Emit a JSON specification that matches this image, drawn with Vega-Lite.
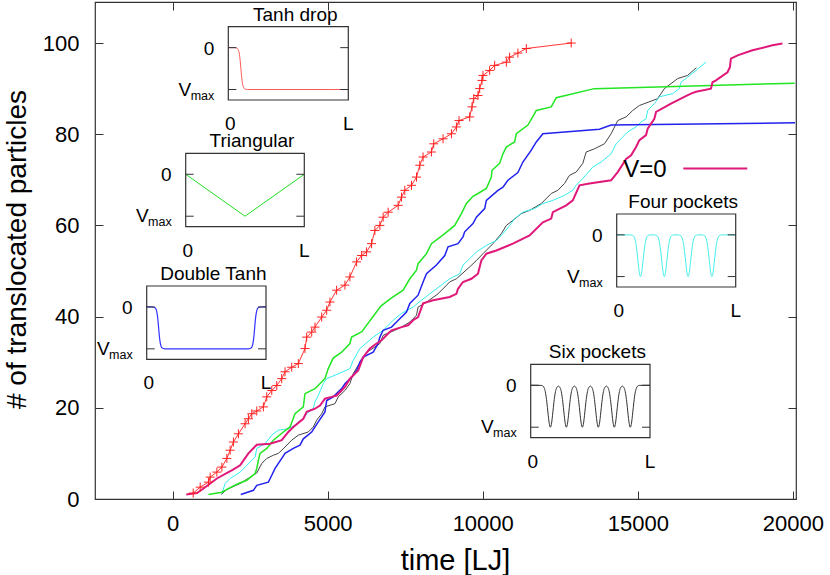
{
"$schema":"https://vega.github.io/schema/vega-lite/v6.json",
"width":701,"height":497,
"autosize":"none",
"padding":{"left":95,"top":2,"right":34,"bottom":76},
"background":"white",
"config":{"font":"Liberation Sans","view":{"stroke":"#333","strokeWidth":1.2}},
"datasets":{
"curves":[
{"series":"Six pockets","t":1567,"n":1.0},{"series":"Six pockets","t":1751,"n":2.1},{"series":"Six pockets","t":2179,"n":3.4},{"series":"Six pockets","t":2716,"n":5.7},{"series":"Six pockets","t":2877,"n":7.8},{"series":"Six pockets","t":3038,"n":8.9},{"series":"Six pockets","t":3250,"n":9.6},{"series":"Six pockets","t":3411,"n":10.0},{"series":"Six pockets","t":3627,"n":11.4},{"series":"Six pockets","t":3842,"n":12.9},{"series":"Six pockets","t":4055,"n":14.0},{"series":"Six pockets","t":4376,"n":14.7},{"series":"Six pockets","t":4537,"n":15.8},{"series":"Six pockets","t":4647,"n":17.3},{"series":"Six pockets","t":4808,"n":18.7},{"series":"Six pockets","t":4914,"n":20.2},{"series":"Six pockets","t":5236,"n":20.9},{"series":"Six pockets","t":5342,"n":22.4},{"series":"Six pockets","t":5558,"n":23.8},{"series":"Six pockets","t":5718,"n":25.3},{"series":"Six pockets","t":5825,"n":27.5},{"series":"Six pockets","t":5985,"n":29.3},{"series":"Six pockets","t":6146,"n":30.8},{"series":"Six pockets","t":6256,"n":32.2},{"series":"Six pockets","t":6362,"n":32.6},{"series":"Six pockets","t":6684,"n":34.1},{"series":"Six pockets","t":6790,"n":35.9},{"series":"Six pockets","t":7167,"n":37.0},{"series":"Six pockets","t":7382,"n":37.7},{"series":"Six pockets","t":7649,"n":38.8},{"series":"Six pockets","t":7865,"n":40.3},{"series":"Six pockets","t":7916,"n":42.1},{"series":"Six pockets","t":8132,"n":42.9},{"series":"Six pockets","t":8560,"n":45.0},{"series":"Six pockets","t":8776,"n":46.5},{"series":"Six pockets","t":8936,"n":47.6},{"series":"Six pockets","t":9152,"n":48.3},{"series":"Six pockets","t":9580,"n":50.9},{"series":"Six pockets","t":9796,"n":52.3},{"series":"Six pockets","t":10008,"n":53.8},{"series":"Six pockets","t":10330,"n":56.0},{"series":"Six pockets","t":10600,"n":58.2},{"series":"Six pockets","t":10761,"n":60.0},{"series":"Six pockets","t":10973,"n":61.1},{"series":"Six pockets","t":11244,"n":62.6},{"series":"Six pockets","t":11511,"n":63.3},{"series":"Six pockets","t":11887,"n":64.8},{"series":"Six pockets","t":12209,"n":67.0},{"series":"Six pockets","t":12421,"n":67.7},{"series":"Six pockets","t":12637,"n":69.2},{"series":"Six pockets","t":12798,"n":71.0},{"series":"Six pockets","t":13013,"n":71.7},{"series":"Six pockets","t":13226,"n":73.6},{"series":"Six pockets","t":13335,"n":76.1},{"series":"Six pockets","t":13602,"n":76.8},{"series":"Six pockets","t":13924,"n":77.9},{"series":"Six pockets","t":14140,"n":80.1},{"series":"Six pockets","t":14352,"n":83.0},{"series":"Six pockets","t":14623,"n":83.8},{"series":"Six pockets","t":14835,"n":85.2},{"series":"Six pockets","t":15051,"n":86.3},{"series":"Six pockets","t":15639,"n":87.8},{"series":"Six pockets","t":15855,"n":90.0},{"series":"Six pockets","t":16071,"n":91.1},{"series":"Six pockets","t":16283,"n":92.2},{"series":"Six pockets","t":16605,"n":92.9},{"series":"Six pockets","t":16890,"n":94.6},
{"series":"Four pockets","t":1590,"n":1.2},{"series":"Four pockets","t":1696,"n":3.4},{"series":"Four pockets","t":1857,"n":4.5},{"series":"Four pockets","t":2179,"n":5.9},{"series":"Four pockets","t":2339,"n":7.0},{"series":"Four pockets","t":2555,"n":8.5},{"series":"Four pockets","t":2661,"n":9.2},{"series":"Four pockets","t":2716,"n":11.1},{"series":"Four pockets","t":2983,"n":12.1},{"series":"Four pockets","t":3199,"n":14.0},{"series":"Four pockets","t":3411,"n":15.1},{"series":"Four pockets","t":3733,"n":15.4},{"series":"Four pockets","t":3948,"n":16.2},{"series":"Four pockets","t":4055,"n":16.9},{"series":"Four pockets","t":4216,"n":17.6},{"series":"Four pockets","t":4325,"n":18.7},{"series":"Four pockets","t":4537,"n":19.8},{"series":"Four pockets","t":4592,"n":21.3},{"series":"Four pockets","t":4698,"n":22.7},{"series":"Four pockets","t":4859,"n":25.3},{"series":"Four pockets","t":4969,"n":26.4},{"series":"Four pockets","t":5397,"n":27.6},{"series":"Four pockets","t":5718,"n":28.6},{"series":"Four pockets","t":5825,"n":30.4},{"series":"Four pockets","t":6040,"n":33.0},{"series":"Four pockets","t":6468,"n":35.5},{"series":"Four pockets","t":6790,"n":37.0},{"series":"Four pockets","t":7112,"n":39.2},{"series":"Four pockets","t":7382,"n":40.7},{"series":"Four pockets","t":7755,"n":42.1},{"series":"Four pockets","t":8026,"n":43.6},{"series":"Four pockets","t":8293,"n":45.0},{"series":"Four pockets","t":8721,"n":47.2},{"series":"Four pockets","t":8936,"n":48.3},{"series":"Four pockets","t":9258,"n":49.4},{"series":"Four pockets","t":9364,"n":51.3},{"series":"Four pockets","t":9580,"n":52.7},{"series":"Four pockets","t":9796,"n":54.2},{"series":"Four pockets","t":10117,"n":55.6},{"series":"Four pockets","t":10439,"n":56.7},{"series":"Four pockets","t":10652,"n":58.2},{"series":"Four pockets","t":10922,"n":60.4},{"series":"Four pockets","t":11028,"n":61.5},{"series":"Four pockets","t":11295,"n":62.9},{"series":"Four pockets","t":11672,"n":63.7},{"series":"Four pockets","t":11939,"n":64.8},{"series":"Four pockets","t":12261,"n":65.5},{"series":"Four pockets","t":12637,"n":66.6},{"series":"Four pockets","t":12904,"n":67.7},{"series":"Four pockets","t":13013,"n":68.8},{"series":"Four pockets","t":13226,"n":70.3},{"series":"Four pockets","t":13548,"n":72.8},{"series":"Four pockets","t":13818,"n":73.9},{"series":"Four pockets","t":14140,"n":75.7},{"series":"Four pockets","t":14301,"n":77.9},{"series":"Four pockets","t":14513,"n":79.4},{"series":"Four pockets","t":14674,"n":80.5},{"series":"Four pockets","t":14944,"n":81.6},{"series":"Four pockets","t":15105,"n":82.7},{"series":"Four pockets","t":15266,"n":83.4},{"series":"Four pockets","t":15318,"n":85.2},{"series":"Four pockets","t":15533,"n":86.7},{"series":"Four pockets","t":15694,"n":88.2},{"series":"Four pockets","t":16122,"n":88.9},{"series":"Four pockets","t":16338,"n":90.0},{"series":"Four pockets","t":16392,"n":91.4},{"series":"Four pockets","t":16605,"n":92.5},{"series":"Four pockets","t":16875,"n":94.0},{"series":"Four pockets","t":17197,"n":95.8},
{"series":"Double Tanh","t":2201,"n":1.0},{"series":"Double Tanh","t":2607,"n":1.9},{"series":"Double Tanh","t":2716,"n":3.0},{"series":"Double Tanh","t":3089,"n":3.7},{"series":"Double Tanh","t":3199,"n":5.2},{"series":"Double Tanh","t":3305,"n":6.7},{"series":"Double Tanh","t":3520,"n":8.9},{"series":"Double Tanh","t":3627,"n":10.0},{"series":"Double Tanh","t":3894,"n":11.1},{"series":"Double Tanh","t":4109,"n":11.8},{"series":"Double Tanh","t":4216,"n":13.2},{"series":"Double Tanh","t":4486,"n":14.7},{"series":"Double Tanh","t":4698,"n":16.9},{"series":"Double Tanh","t":4914,"n":19.1},{"series":"Double Tanh","t":4969,"n":21.6},{"series":"Double Tanh","t":5181,"n":22.4},{"series":"Double Tanh","t":5451,"n":24.2},{"series":"Double Tanh","t":5558,"n":25.3},{"series":"Double Tanh","t":5825,"n":27.1},{"series":"Double Tanh","t":5934,"n":28.2},{"series":"Double Tanh","t":6040,"n":30.0},{"series":"Double Tanh","t":6146,"n":31.1},{"series":"Double Tanh","t":6468,"n":32.2},{"series":"Double Tanh","t":6629,"n":34.1},{"series":"Double Tanh","t":6684,"n":35.5},{"series":"Double Tanh","t":6790,"n":37.0},{"series":"Double Tanh","t":7060,"n":37.7},{"series":"Double Tanh","t":7221,"n":38.8},{"series":"Double Tanh","t":7543,"n":41.0},{"series":"Double Tanh","t":7649,"n":42.9},{"series":"Double Tanh","t":7916,"n":44.7},{"series":"Double Tanh","t":8077,"n":47.6},{"series":"Double Tanh","t":8187,"n":49.4},{"series":"Double Tanh","t":8508,"n":51.3},{"series":"Double Tanh","t":8776,"n":53.4},{"series":"Double Tanh","t":8882,"n":55.3},{"series":"Double Tanh","t":9203,"n":56.0},{"series":"Double Tanh","t":9364,"n":57.5},{"series":"Double Tanh","t":9419,"n":58.6},{"series":"Double Tanh","t":9686,"n":60.4},{"series":"Double Tanh","t":9796,"n":61.8},{"series":"Double Tanh","t":10063,"n":63.7},{"series":"Double Tanh","t":10117,"n":65.5},{"series":"Double Tanh","t":10491,"n":67.7},{"series":"Double Tanh","t":10652,"n":68.4},{"series":"Double Tanh","t":10812,"n":69.9},{"series":"Double Tanh","t":11134,"n":71.6},{"series":"Double Tanh","t":11295,"n":73.9},{"series":"Double Tanh","t":11566,"n":76.5},{"series":"Double Tanh","t":11727,"n":78.3},{"series":"Double Tanh","t":11939,"n":80.1},{"series":"Double Tanh","t":13763,"n":81.1},{"series":"Double Tanh","t":14140,"n":82.0},{"series":"Double Tanh","t":20071,"n":82.5},
{"series":"Triangular","t":1158,"n":1.0},{"series":"Triangular","t":1590,"n":1.5},{"series":"Triangular","t":1751,"n":2.1},{"series":"Triangular","t":2124,"n":3.4},{"series":"Triangular","t":2394,"n":4.1},{"series":"Triangular","t":2661,"n":5.6},{"series":"Triangular","t":2716,"n":6.7},{"series":"Triangular","t":2767,"n":8.5},{"series":"Triangular","t":2822,"n":10.0},{"series":"Triangular","t":3038,"n":11.1},{"series":"Triangular","t":3250,"n":12.9},{"series":"Triangular","t":3572,"n":14.7},{"series":"Triangular","t":3788,"n":15.8},{"series":"Triangular","t":3948,"n":18.7},{"series":"Triangular","t":4216,"n":20.2},{"series":"Triangular","t":4270,"n":23.1},{"series":"Triangular","t":4592,"n":24.2},{"series":"Triangular","t":4914,"n":26.4},{"series":"Triangular","t":5020,"n":28.6},{"series":"Triangular","t":5181,"n":30.9},{"series":"Triangular","t":5451,"n":32.2},{"series":"Triangular","t":5718,"n":34.1},{"series":"Triangular","t":5773,"n":35.5},{"series":"Triangular","t":6105,"n":36.7},{"series":"Triangular","t":6330,"n":38.8},{"series":"Triangular","t":6417,"n":39.6},{"series":"Triangular","t":6716,"n":42.3},{"series":"Triangular","t":7038,"n":44.0},{"series":"Triangular","t":7434,"n":45.8},{"series":"Triangular","t":7649,"n":48.3},{"series":"Triangular","t":7865,"n":50.2},{"series":"Triangular","t":7916,"n":51.6},{"series":"Triangular","t":8187,"n":53.8},{"series":"Triangular","t":8347,"n":56.0},{"series":"Triangular","t":8776,"n":58.2},{"series":"Triangular","t":9097,"n":60.0},{"series":"Triangular","t":9313,"n":62.6},{"series":"Triangular","t":9474,"n":64.8},{"series":"Triangular","t":9686,"n":66.4},{"series":"Triangular","t":9847,"n":67.0},{"series":"Triangular","t":10117,"n":68.1},{"series":"Triangular","t":10278,"n":70.6},{"series":"Triangular","t":10300,"n":72.1},{"series":"Triangular","t":10545,"n":73.6},{"series":"Triangular","t":10652,"n":75.7},{"series":"Triangular","t":10761,"n":77.2},{"series":"Triangular","t":11028,"n":78.3},{"series":"Triangular","t":11083,"n":80.1},{"series":"Triangular","t":11456,"n":82.0},{"series":"Triangular","t":11672,"n":84.5},{"series":"Triangular","t":11727,"n":85.2},{"series":"Triangular","t":12209,"n":86.0},{"series":"Triangular","t":12370,"n":88.0},{"series":"Triangular","t":13602,"n":90.0},{"series":"Triangular","t":20061,"n":91.2},
{"series":"V=0","t":441,"n":1.0},{"series":"V=0","t":785,"n":1.3},{"series":"V=0","t":998,"n":2.3},{"series":"V=0","t":1213,"n":3.4},{"series":"V=0","t":1429,"n":4.5},{"series":"V=0","t":1802,"n":5.9},{"series":"V=0","t":1911,"n":6.3},{"series":"V=0","t":2179,"n":7.4},{"series":"V=0","t":2446,"n":10.0},{"series":"V=0","t":2716,"n":11.9},{"series":"V=0","t":3144,"n":12.1},{"series":"V=0","t":3520,"n":12.9},{"series":"V=0","t":3733,"n":14.7},{"series":"V=0","t":3894,"n":15.8},{"series":"V=0","t":4216,"n":17.6},{"series":"V=0","t":4325,"n":19.1},{"series":"V=0","t":4592,"n":19.8},{"series":"V=0","t":4753,"n":20.5},{"series":"V=0","t":4914,"n":22.0},{"series":"V=0","t":5130,"n":22.4},{"series":"V=0","t":5290,"n":22.7},{"series":"V=0","t":5451,"n":23.8},{"series":"V=0","t":5558,"n":24.6},{"series":"V=0","t":5718,"n":26.4},{"series":"V=0","t":5985,"n":28.2},{"series":"V=0","t":6146,"n":31.1},{"series":"V=0","t":6362,"n":33.0},{"series":"V=0","t":6578,"n":34.1},{"series":"V=0","t":6738,"n":34.8},{"series":"V=0","t":6951,"n":36.3},{"series":"V=0","t":7060,"n":37.0},{"series":"V=0","t":7382,"n":37.7},{"series":"V=0","t":7594,"n":38.1},{"series":"V=0","t":7755,"n":39.2},{"series":"V=0","t":7916,"n":39.9},{"series":"V=0","t":8077,"n":42.9},{"series":"V=0","t":8399,"n":43.6},{"series":"V=0","t":8936,"n":44.3},{"series":"V=0","t":9152,"n":45.0},{"series":"V=0","t":9203,"n":46.1},{"series":"V=0","t":9364,"n":47.6},{"series":"V=0","t":9635,"n":48.3},{"series":"V=0","t":9847,"n":49.4},{"series":"V=0","t":9956,"n":52.3},{"series":"V=0","t":10117,"n":53.8},{"series":"V=0","t":10439,"n":54.5},{"series":"V=0","t":10973,"n":56.0},{"series":"V=0","t":11511,"n":57.8},{"series":"V=0","t":11939,"n":60.7},{"series":"V=0","t":12209,"n":61.5},{"series":"V=0","t":12261,"n":62.9},{"series":"V=0","t":12692,"n":64.4},{"series":"V=0","t":12904,"n":65.5},{"series":"V=0","t":13120,"n":68.8},{"series":"V=0","t":13442,"n":69.2},{"series":"V=0","t":14140,"n":69.9},{"series":"V=0","t":14352,"n":71.7},{"series":"V=0","t":14623,"n":74.6},{"series":"V=0","t":14783,"n":75.4},{"series":"V=0","t":14944,"n":77.2},{"series":"V=0","t":15051,"n":78.7},{"series":"V=0","t":15266,"n":79.8},{"series":"V=0","t":15318,"n":81.2},{"series":"V=0","t":15533,"n":83.4},{"series":"V=0","t":15588,"n":84.9},{"series":"V=0","t":16071,"n":86.7},{"series":"V=0","t":16499,"n":88.2},{"series":"V=0","t":16714,"n":88.9},{"series":"V=0","t":16875,"n":89.3},{"series":"V=0","t":17358,"n":90.0},{"series":"V=0","t":17409,"n":91.4},{"series":"V=0","t":17519,"n":91.8},{"series":"V=0","t":17892,"n":93.6},{"series":"V=0","t":17969,"n":94.7},{"series":"V=0","t":18001,"n":96.6},{"series":"V=0","t":18216,"n":97.3},{"series":"V=0","t":18697,"n":98.4},{"series":"V=0","t":19340,"n":99.5},{"series":"V=0","t":19662,"n":99.9},
{"series":"Tanh drop","t":666,"n":1.3},{"series":"Tanh drop","t":891,"n":2.6},{"series":"Tanh drop","t":1158,"n":3.7},{"series":"Tanh drop","t":1213,"n":4.8},{"series":"Tanh drop","t":1429,"n":5.9},{"series":"Tanh drop","t":1590,"n":7.0},{"series":"Tanh drop","t":1751,"n":8.9},{"series":"Tanh drop","t":1857,"n":10.7},{"series":"Tanh drop","t":1963,"n":12.5},{"series":"Tanh drop","t":2124,"n":14.3},{"series":"Tanh drop","t":2339,"n":16.5},{"series":"Tanh drop","t":2446,"n":17.6},{"series":"Tanh drop","t":2555,"n":18.7},{"series":"Tanh drop","t":2716,"n":19.3},{"series":"Tanh drop","t":2928,"n":20.2},{"series":"Tanh drop","t":3038,"n":22.4},{"series":"Tanh drop","t":3199,"n":23.8},{"series":"Tanh drop","t":3360,"n":24.9},{"series":"Tanh drop","t":3520,"n":26.4},{"series":"Tanh drop","t":3627,"n":27.9},{"series":"Tanh drop","t":3842,"n":28.9},{"series":"Tanh drop","t":4055,"n":29.7},{"series":"Tanh drop","t":4270,"n":33.0},{"series":"Tanh drop","t":4325,"n":35.5},{"series":"Tanh drop","t":4486,"n":36.6},{"series":"Tanh drop","t":4592,"n":37.7},{"series":"Tanh drop","t":4808,"n":39.9},{"series":"Tanh drop","t":4969,"n":41.4},{"series":"Tanh drop","t":5075,"n":43.2},{"series":"Tanh drop","t":5290,"n":45.8},{"series":"Tanh drop","t":5558,"n":46.9},{"series":"Tanh drop","t":5718,"n":48.7},{"series":"Tanh drop","t":5934,"n":52.0},{"series":"Tanh drop","t":6095,"n":53.4},{"series":"Tanh drop","t":6256,"n":54.2},{"series":"Tanh drop","t":6417,"n":56.0},{"series":"Tanh drop","t":6523,"n":58.9},{"series":"Tanh drop","t":6684,"n":60.0},{"series":"Tanh drop","t":6790,"n":61.8},{"series":"Tanh drop","t":6951,"n":62.9},{"series":"Tanh drop","t":7273,"n":64.4},{"series":"Tanh drop","t":7382,"n":66.2},{"series":"Tanh drop","t":7488,"n":67.7},{"series":"Tanh drop","t":7704,"n":68.8},{"series":"Tanh drop","t":7865,"n":70.6},{"series":"Tanh drop","t":7971,"n":73.2},{"series":"Tanh drop","t":8077,"n":75.0},{"series":"Tanh drop","t":8347,"n":76.1},{"series":"Tanh drop","t":8421,"n":77.9},{"series":"Tanh drop","t":8721,"n":79.0},{"series":"Tanh drop","t":8991,"n":80.1},{"series":"Tanh drop","t":9152,"n":81.6},{"series":"Tanh drop","t":9236,"n":83.0},{"series":"Tanh drop","t":9580,"n":83.8},{"series":"Tanh drop","t":9654,"n":86.0},{"series":"Tanh drop","t":9709,"n":87.8},{"series":"Tanh drop","t":9847,"n":88.5},{"series":"Tanh drop","t":9902,"n":90.0},{"series":"Tanh drop","t":9976,"n":91.8},{"series":"Tanh drop","t":10008,"n":92.9},{"series":"Tanh drop","t":10224,"n":94.0},{"series":"Tanh drop","t":10385,"n":95.1},{"series":"Tanh drop","t":10761,"n":95.8},{"series":"Tanh drop","t":10867,"n":96.9},{"series":"Tanh drop","t":11134,"n":97.8},{"series":"Tanh drop","t":11405,"n":98.8},{"series":"Tanh drop","t":12853,"n":100.0}
],
"profiles":[
{"shape":"Tanh drop","x":0,"v":0},{"shape":"Tanh drop","x":0.05,"v":-0.001},{"shape":"Tanh drop","x":0.07,"v":-0.01},{"shape":"Tanh drop","x":0.08,"v":-0.035},{"shape":"Tanh drop","x":0.09,"v":-0.119},{"shape":"Tanh drop","x":0.1,"v":-0.339},{"shape":"Tanh drop","x":0.105,"v":-0.5},{"shape":"Tanh drop","x":0.11,"v":-0.661},{"shape":"Tanh drop","x":0.12,"v":-0.881},{"shape":"Tanh drop","x":0.13,"v":-0.966},{"shape":"Tanh drop","x":0.14,"v":-0.99},{"shape":"Tanh drop","x":0.16,"v":-0.999},{"shape":"Tanh drop","x":1,"v":-1},
{"shape":"Triangular","x":0,"v":0},{"shape":"Triangular","x":0.5,"v":-1},{"shape":"Triangular","x":1,"v":0},
{"shape":"Double Tanh","x":0,"v":0},{"shape":"Double Tanh","x":0.05,"v":-0.001},{"shape":"Double Tanh","x":0.07,"v":-0.018},{"shape":"Double Tanh","x":0.08,"v":-0.065},{"shape":"Double Tanh","x":0.09,"v":-0.209},{"shape":"Double Tanh","x":0.095,"v":-0.339},{"shape":"Double Tanh","x":0.1,"v":-0.5},{"shape":"Double Tanh","x":0.105,"v":-0.661},{"shape":"Double Tanh","x":0.11,"v":-0.791},{"shape":"Double Tanh","x":0.12,"v":-0.935},{"shape":"Double Tanh","x":0.13,"v":-0.982},{"shape":"Double Tanh","x":0.15,"v":-0.999},{"shape":"Double Tanh","x":0.855,"v":-0.999},{"shape":"Double Tanh","x":0.875,"v":-0.982},{"shape":"Double Tanh","x":0.885,"v":-0.935},{"shape":"Double Tanh","x":0.895,"v":-0.791},{"shape":"Double Tanh","x":0.9,"v":-0.661},{"shape":"Double Tanh","x":0.905,"v":-0.5},{"shape":"Double Tanh","x":0.91,"v":-0.339},{"shape":"Double Tanh","x":0.915,"v":-0.209},{"shape":"Double Tanh","x":0.925,"v":-0.065},{"shape":"Double Tanh","x":0.935,"v":-0.018},{"shape":"Double Tanh","x":0.955,"v":-0.001},{"shape":"Double Tanh","x":1,"v":0},
{"shape":"Four pockets","x":0,"v":0},{"shape":"Four pockets","x":0.12,"v":-0.001},{"shape":"Four pockets","x":0.14,"v":-0.024},{"shape":"Four pockets","x":0.15,"v":-0.076},{"shape":"Four pockets","x":0.16,"v":-0.191},{"shape":"Four pockets","x":0.17,"v":-0.395},{"shape":"Four pockets","x":0.18,"v":-0.661},{"shape":"Four pockets","x":0.19,"v":-0.902},{"shape":"Four pockets","x":0.2,"v":-1},{"shape":"Four pockets","x":0.21,"v":-0.902},{"shape":"Four pockets","x":0.22,"v":-0.661},{"shape":"Four pockets","x":0.23,"v":-0.395},{"shape":"Four pockets","x":0.24,"v":-0.191},{"shape":"Four pockets","x":0.25,"v":-0.076},{"shape":"Four pockets","x":0.26,"v":-0.024},{"shape":"Four pockets","x":0.28,"v":-0.001},{"shape":"Four pockets","x":0.3,"v":0},
{"shape":"Four pockets","x":0.32,"v":-0.001},{"shape":"Four pockets","x":0.34,"v":-0.024},{"shape":"Four pockets","x":0.35,"v":-0.076},{"shape":"Four pockets","x":0.36,"v":-0.191},{"shape":"Four pockets","x":0.37,"v":-0.395},{"shape":"Four pockets","x":0.38,"v":-0.661},{"shape":"Four pockets","x":0.39,"v":-0.902},{"shape":"Four pockets","x":0.4,"v":-1},{"shape":"Four pockets","x":0.41,"v":-0.902},{"shape":"Four pockets","x":0.42,"v":-0.661},{"shape":"Four pockets","x":0.43,"v":-0.395},{"shape":"Four pockets","x":0.44,"v":-0.191},{"shape":"Four pockets","x":0.45,"v":-0.076},{"shape":"Four pockets","x":0.46,"v":-0.024},{"shape":"Four pockets","x":0.48,"v":-0.001},{"shape":"Four pockets","x":0.5,"v":0},
{"shape":"Four pockets","x":0.52,"v":-0.001},{"shape":"Four pockets","x":0.54,"v":-0.024},{"shape":"Four pockets","x":0.55,"v":-0.076},{"shape":"Four pockets","x":0.56,"v":-0.191},{"shape":"Four pockets","x":0.57,"v":-0.395},{"shape":"Four pockets","x":0.58,"v":-0.661},{"shape":"Four pockets","x":0.59,"v":-0.902},{"shape":"Four pockets","x":0.6,"v":-1},{"shape":"Four pockets","x":0.61,"v":-0.902},{"shape":"Four pockets","x":0.62,"v":-0.661},{"shape":"Four pockets","x":0.63,"v":-0.395},{"shape":"Four pockets","x":0.64,"v":-0.191},{"shape":"Four pockets","x":0.65,"v":-0.076},{"shape":"Four pockets","x":0.66,"v":-0.024},{"shape":"Four pockets","x":0.68,"v":-0.001},{"shape":"Four pockets","x":0.7,"v":0},
{"shape":"Four pockets","x":0.72,"v":-0.001},{"shape":"Four pockets","x":0.74,"v":-0.024},{"shape":"Four pockets","x":0.75,"v":-0.076},{"shape":"Four pockets","x":0.76,"v":-0.191},{"shape":"Four pockets","x":0.77,"v":-0.395},{"shape":"Four pockets","x":0.78,"v":-0.661},{"shape":"Four pockets","x":0.79,"v":-0.902},{"shape":"Four pockets","x":0.8,"v":-1},{"shape":"Four pockets","x":0.81,"v":-0.902},{"shape":"Four pockets","x":0.82,"v":-0.661},{"shape":"Four pockets","x":0.83,"v":-0.395},{"shape":"Four pockets","x":0.84,"v":-0.191},{"shape":"Four pockets","x":0.85,"v":-0.076},{"shape":"Four pockets","x":0.86,"v":-0.024},{"shape":"Four pockets","x":0.88,"v":-0.001},{"shape":"Four pockets","x":1,"v":0},
{"shape":"Six pockets","x":0,"v":0},{"shape":"Six pockets","x":0.09,"v":-0.003},{"shape":"Six pockets","x":0.105,"v":-0.024},{"shape":"Six pockets","x":0.115,"v":-0.076},{"shape":"Six pockets","x":0.125,"v":-0.191},{"shape":"Six pockets","x":0.135,"v":-0.395},{"shape":"Six pockets","x":0.145,"v":-0.661},{"shape":"Six pockets","x":0.155,"v":-0.902},{"shape":"Six pockets","x":0.165,"v":-1},{"shape":"Six pockets","x":0.175,"v":-0.902},{"shape":"Six pockets","x":0.185,"v":-0.661},{"shape":"Six pockets","x":0.195,"v":-0.395},{"shape":"Six pockets","x":0.205,"v":-0.191},{"shape":"Six pockets","x":0.215,"v":-0.076},{"shape":"Six pockets","x":0.232,"v":-0.02},
{"shape":"Six pockets","x":0.249,"v":-0.076},{"shape":"Six pockets","x":0.259,"v":-0.191},{"shape":"Six pockets","x":0.269,"v":-0.395},{"shape":"Six pockets","x":0.279,"v":-0.661},{"shape":"Six pockets","x":0.289,"v":-0.902},{"shape":"Six pockets","x":0.299,"v":-1},{"shape":"Six pockets","x":0.309,"v":-0.902},{"shape":"Six pockets","x":0.319,"v":-0.661},{"shape":"Six pockets","x":0.329,"v":-0.395},{"shape":"Six pockets","x":0.339,"v":-0.191},{"shape":"Six pockets","x":0.349,"v":-0.076},{"shape":"Six pockets","x":0.366,"v":-0.02},
{"shape":"Six pockets","x":0.383,"v":-0.076},{"shape":"Six pockets","x":0.393,"v":-0.191},{"shape":"Six pockets","x":0.403,"v":-0.395},{"shape":"Six pockets","x":0.413,"v":-0.661},{"shape":"Six pockets","x":0.423,"v":-0.902},{"shape":"Six pockets","x":0.433,"v":-1},{"shape":"Six pockets","x":0.443,"v":-0.902},{"shape":"Six pockets","x":0.453,"v":-0.661},{"shape":"Six pockets","x":0.463,"v":-0.395},{"shape":"Six pockets","x":0.473,"v":-0.191},{"shape":"Six pockets","x":0.483,"v":-0.076},{"shape":"Six pockets","x":0.5,"v":-0.02},
{"shape":"Six pockets","x":0.517,"v":-0.076},{"shape":"Six pockets","x":0.527,"v":-0.191},{"shape":"Six pockets","x":0.537,"v":-0.395},{"shape":"Six pockets","x":0.547,"v":-0.661},{"shape":"Six pockets","x":0.557,"v":-0.902},{"shape":"Six pockets","x":0.567,"v":-1},{"shape":"Six pockets","x":0.577,"v":-0.902},{"shape":"Six pockets","x":0.587,"v":-0.661},{"shape":"Six pockets","x":0.597,"v":-0.395},{"shape":"Six pockets","x":0.607,"v":-0.191},{"shape":"Six pockets","x":0.617,"v":-0.076},{"shape":"Six pockets","x":0.634,"v":-0.02},
{"shape":"Six pockets","x":0.651,"v":-0.076},{"shape":"Six pockets","x":0.661,"v":-0.191},{"shape":"Six pockets","x":0.671,"v":-0.395},{"shape":"Six pockets","x":0.681,"v":-0.661},{"shape":"Six pockets","x":0.691,"v":-0.902},{"shape":"Six pockets","x":0.701,"v":-1},{"shape":"Six pockets","x":0.711,"v":-0.902},{"shape":"Six pockets","x":0.721,"v":-0.661},{"shape":"Six pockets","x":0.731,"v":-0.395},{"shape":"Six pockets","x":0.741,"v":-0.191},{"shape":"Six pockets","x":0.751,"v":-0.076},{"shape":"Six pockets","x":0.768,"v":-0.02},
{"shape":"Six pockets","x":0.785,"v":-0.076},{"shape":"Six pockets","x":0.795,"v":-0.191},{"shape":"Six pockets","x":0.805,"v":-0.395},{"shape":"Six pockets","x":0.815,"v":-0.661},{"shape":"Six pockets","x":0.825,"v":-0.902},{"shape":"Six pockets","x":0.835,"v":-1},{"shape":"Six pockets","x":0.845,"v":-0.902},{"shape":"Six pockets","x":0.855,"v":-0.661},{"shape":"Six pockets","x":0.865,"v":-0.395},{"shape":"Six pockets","x":0.875,"v":-0.191},{"shape":"Six pockets","x":0.885,"v":-0.076},{"shape":"Six pockets","x":0.895,"v":-0.024},{"shape":"Six pockets","x":0.91,"v":-0.003},{"shape":"Six pockets","x":1,"v":0}
],
"inset_ticks":[{"x":0,"x2":0.067,"v":0},{"x":0,"x2":0.067,"v":-1},{"x":1,"x2":0.933,"v":0},{"x":1,"x2":0.933,"v":-1}]
},
"layer":[
{
"data":{"name":"curves"},
"layer":[
{"transform":[{"filter":"datum.series === 'Six pockets'"}],"mark":{"type":"line","color":"#444444","strokeWidth":1},
 "encoding":{"x":{"field":"t","type":"quantitative","scale":{"domain":[-2500,20100],"nice":false,"zero":false},
   "axis":{"orient":"bottom","values":[0,5000,10000,15000,20000],"format":"d","tickSize":-8,"tickColor":"#333","domain":false,"grid":false,"labelFontSize":22,"labelColor":"#000","labelPadding":22,"labelFlush":false,"labelOverlap":false,"title":"time [LJ]","titleFontSize":29,"titleFontWeight":"normal","titleColor":"#000","titleX":360,"titleY":70,"titleAlign":"center","titleBaseline":"alphabetic"}},
  "y":{"field":"n","type":"quantitative","scale":{"domain":[0,109],"nice":false,"zero":false},
   "axis":{"orient":"left","values":[0,20,40,60,80,100],"format":"d","tickSize":-8,"tickColor":"#333","domain":false,"grid":false,"labelFontSize":22,"labelColor":"#000","labelPadding":24,"labelFlush":false,"labelOverlap":false,"title":"# of translocated particles","titleFontSize":28,"titleFontWeight":"normal","titleColor":"#000","titleX":-70,"titleY":247,"titleAngle":270,"titleAlign":"center","titleBaseline":"alphabetic"}}}},
{"mark":{"type":"point","opacity":0},
 "encoding":{"x":{"field":"t","type":"quantitative","axis":{"orient":"top","values":[0,5000,10000,15000,20000],"tickSize":-8,"tickColor":"#333","domain":false,"grid":false,"labels":false,"title":null}},
  "y":{"field":"n","type":"quantitative","axis":{"orient":"right","values":[0,20,40,60,80,100],"tickSize":-8,"tickColor":"#333","domain":false,"grid":false,"labels":false,"title":null}}}},
{"transform":[{"filter":"datum.series === 'Four pockets'"}],"mark":{"type":"line","color":"#33eeee","strokeWidth":1},
 "encoding":{"x":{"field":"t","type":"quantitative","axis":null},"y":{"field":"n","type":"quantitative","axis":null}}},
{"transform":[{"filter":"datum.series === 'Double Tanh'"}],"mark":{"type":"line","color":"#2222ee","strokeWidth":1.5},
 "encoding":{"x":{"field":"t","type":"quantitative","axis":null},"y":{"field":"n","type":"quantitative","axis":null}}},
{"transform":[{"filter":"datum.series === 'Triangular'"}],"mark":{"type":"line","color":"#22e622","strokeWidth":1.5},
 "encoding":{"x":{"field":"t","type":"quantitative","axis":null},"y":{"field":"n","type":"quantitative","axis":null}}},
{"transform":[{"filter":"datum.series === 'V=0'"}],"mark":{"type":"line","color":"#e0187a","strokeWidth":2},
 "encoding":{"x":{"field":"t","type":"quantitative","axis":null},"y":{"field":"n","type":"quantitative","axis":null}}},
{"transform":[{"filter":"datum.series === 'Tanh drop'"}],"mark":{"type":"line","color":"#ff3535","strokeWidth":1},
 "encoding":{"x":{"field":"t","type":"quantitative","axis":null},"y":{"field":"n","type":"quantitative","axis":null}}},
{"transform":[{"filter":"datum.series === 'Tanh drop'"}],"mark":{"type":"point","shape":"M-1,0L1,0M0,-1L0,1","size":81,"filled":false,"stroke":"#ff2020","strokeWidth":1,"opacity":1},
 "encoding":{"x":{"field":"t","type":"quantitative","axis":null},"y":{"field":"n","type":"quantitative","axis":null}}},
{"data":{"values":[{}]},"mark":{"type":"text","text":"V=0","fontSize":24,"align":"left","baseline":"middle","color":"#000"},
 "encoding":{"x":{"datum":14532,"type":"quantitative","axis":null},"y":{"datum":72.2,"type":"quantitative","axis":null}}},
{"data":{"values":[{}]},"mark":{"type":"rule","color":"#e0187a","strokeWidth":2},
 "encoding":{"x":{"datum":16467,"type":"quantitative","axis":null},"x2":{"datum":18530},"y":{"datum":72.5,"type":"quantitative","axis":null}}}
],
"resolve":{"axis":{"x":"independent","y":"independent"}}
},
{
"layer":[
{"data":{"name":"profiles"},"transform":[{"filter":"datum.shape === 'Tanh drop'"}],"mark":{"type":"line","color":"#ff5a5a","strokeWidth":1,"interpolate":"monotone"},
 "encoding":{"x":{"field":"x","type":"quantitative","scale":{"domain":[0,1],"range":[133.3,253.3],"nice":false,"zero":false},"axis":null},
  "y":{"field":"v","type":"quantitative","scale":{"domain":[-1.25,0.5],"range":[98,24.7],"nice":false,"zero":false},"axis":null}}},
{"data":{"name":"inset_ticks"},"mark":{"type":"rule","color":"#333","strokeWidth":1},"encoding":{"x":{"field":"x","type":"quantitative","axis":null},"x2":{"field":"x2"},"y":{"field":"v","type":"quantitative","axis":null}}},
{"data":{"values":[{}]},"mark":{"type":"rect","filled":false,"stroke":"#333","strokeWidth":1.2},"encoding":{"x":{"datum":0,"type":"quantitative","axis":null},"x2":{"datum":1},"y":{"datum":-1.25,"type":"quantitative","axis":null},"y2":{"datum":0.5}}},
{"data":{"values":[{}]},"mark":{"type":"text","text":"Tanh drop","fontSize":19,"align":"center","baseline":"alphabetic","dx":7,"dy":-6},"encoding":{"x":{"datum":0.5,"type":"quantitative","axis":null},"y":{"datum":0.5,"type":"quantitative","axis":null}}},
{"data":{"values":[{}]},"mark":{"type":"text","text":"0","fontSize":19,"align":"right","baseline":"middle","dx":-14,"dy":1},"encoding":{"x":{"datum":0,"type":"quantitative","axis":null},"y":{"datum":0,"type":"quantitative","axis":null}}},
{"data":{"values":[{}]},"mark":{"type":"text","text":"V","fontSize":19,"align":"right","baseline":"middle","dx":-37,"dy":0},"encoding":{"x":{"datum":0,"type":"quantitative","axis":null},"y":{"datum":-1,"type":"quantitative","axis":null}}},
{"data":{"values":[{}]},"mark":{"type":"text","text":"max","fontSize":12.5,"align":"right","baseline":"middle","dx":-14,"dy":6},"encoding":{"x":{"datum":0,"type":"quantitative","axis":null},"y":{"datum":-1,"type":"quantitative","axis":null}}},
{"data":{"values":[{}]},"mark":{"type":"text","text":"0","fontSize":19,"align":"center","baseline":"middle","dx":2,"dy":24},"encoding":{"x":{"datum":0,"type":"quantitative","axis":null},"y":{"datum":-1.25,"type":"quantitative","axis":null}}},
{"data":{"values":[{}]},"mark":{"type":"text","text":"L","fontSize":19,"align":"center","baseline":"middle","dy":24},"encoding":{"x":{"datum":1,"type":"quantitative","axis":null},"y":{"datum":-1.25,"type":"quantitative","axis":null}}}
]
},
{
"layer":[
{"data":{"name":"profiles"},"transform":[{"filter":"datum.shape === 'Triangular'"}],"mark":{"type":"line","color":"#22dd22","strokeWidth":1},
 "encoding":{"x":{"field":"x","type":"quantitative","scale":{"domain":[0,1],"range":[90.7,209.3],"nice":false,"zero":false},"axis":null},
  "y":{"field":"v","type":"quantitative","scale":{"domain":[-1.25,0.5],"range":[224.7,151.3],"nice":false,"zero":false},"axis":null}}},
{"data":{"name":"inset_ticks"},"mark":{"type":"rule","color":"#333","strokeWidth":1},"encoding":{"x":{"field":"x","type":"quantitative","axis":null},"x2":{"field":"x2"},"y":{"field":"v","type":"quantitative","axis":null}}},
{"data":{"values":[{}]},"mark":{"type":"rect","filled":false,"stroke":"#333","strokeWidth":1.2},"encoding":{"x":{"datum":0,"type":"quantitative","axis":null},"x2":{"datum":1},"y":{"datum":-1.25,"type":"quantitative","axis":null},"y2":{"datum":0.5}}},
{"data":{"values":[{}]},"mark":{"type":"text","text":"Triangular","fontSize":19,"align":"center","baseline":"alphabetic","dx":7,"dy":-6},"encoding":{"x":{"datum":0.5,"type":"quantitative","axis":null},"y":{"datum":0.5,"type":"quantitative","axis":null}}},
{"data":{"values":[{}]},"mark":{"type":"text","text":"0","fontSize":19,"align":"right","baseline":"middle","dx":-14,"dy":1},"encoding":{"x":{"datum":0,"type":"quantitative","axis":null},"y":{"datum":0,"type":"quantitative","axis":null}}},
{"data":{"values":[{}]},"mark":{"type":"text","text":"V","fontSize":19,"align":"right","baseline":"middle","dx":-37,"dy":0},"encoding":{"x":{"datum":0,"type":"quantitative","axis":null},"y":{"datum":-1,"type":"quantitative","axis":null}}},
{"data":{"values":[{}]},"mark":{"type":"text","text":"max","fontSize":12.5,"align":"right","baseline":"middle","dx":-14,"dy":6},"encoding":{"x":{"datum":0,"type":"quantitative","axis":null},"y":{"datum":-1,"type":"quantitative","axis":null}}},
{"data":{"values":[{}]},"mark":{"type":"text","text":"0","fontSize":19,"align":"center","baseline":"middle","dx":2,"dy":24},"encoding":{"x":{"datum":0,"type":"quantitative","axis":null},"y":{"datum":-1.25,"type":"quantitative","axis":null}}},
{"data":{"values":[{}]},"mark":{"type":"text","text":"L","fontSize":19,"align":"center","baseline":"middle","dy":24},"encoding":{"x":{"datum":1,"type":"quantitative","axis":null},"y":{"datum":-1.25,"type":"quantitative","axis":null}}}
]
},
{
"layer":[
{"data":{"name":"profiles"},"transform":[{"filter":"datum.shape === 'Double Tanh'"}],"mark":{"type":"line","color":"#3333ff","strokeWidth":1.2,"interpolate":"monotone"},
 "encoding":{"x":{"field":"x","type":"quantitative","scale":{"domain":[0,1],"range":[51.7,171],"nice":false,"zero":false},"axis":null},
  "y":{"field":"v","type":"quantitative","scale":{"domain":[-1.25,0.5],"range":[357.3,284],"nice":false,"zero":false},"axis":null}}},
{"data":{"name":"inset_ticks"},"mark":{"type":"rule","color":"#333","strokeWidth":1},"encoding":{"x":{"field":"x","type":"quantitative","axis":null},"x2":{"field":"x2"},"y":{"field":"v","type":"quantitative","axis":null}}},
{"data":{"values":[{}]},"mark":{"type":"rect","filled":false,"stroke":"#333","strokeWidth":1.2},"encoding":{"x":{"datum":0,"type":"quantitative","axis":null},"x2":{"datum":1},"y":{"datum":-1.25,"type":"quantitative","axis":null},"y2":{"datum":0.5}}},
{"data":{"values":[{}]},"mark":{"type":"text","text":"Double Tanh","fontSize":19,"align":"center","baseline":"alphabetic","dx":7,"dy":-6},"encoding":{"x":{"datum":0.5,"type":"quantitative","axis":null},"y":{"datum":0.5,"type":"quantitative","axis":null}}},
{"data":{"values":[{}]},"mark":{"type":"text","text":"0","fontSize":19,"align":"right","baseline":"middle","dx":-14,"dy":1},"encoding":{"x":{"datum":0,"type":"quantitative","axis":null},"y":{"datum":0,"type":"quantitative","axis":null}}},
{"data":{"values":[{}]},"mark":{"type":"text","text":"V","fontSize":19,"align":"right","baseline":"middle","dx":-37,"dy":0},"encoding":{"x":{"datum":0,"type":"quantitative","axis":null},"y":{"datum":-1,"type":"quantitative","axis":null}}},
{"data":{"values":[{}]},"mark":{"type":"text","text":"max","fontSize":12.5,"align":"right","baseline":"middle","dx":-14,"dy":6},"encoding":{"x":{"datum":0,"type":"quantitative","axis":null},"y":{"datum":-1,"type":"quantitative","axis":null}}},
{"data":{"values":[{}]},"mark":{"type":"text","text":"0","fontSize":19,"align":"center","baseline":"middle","dx":2,"dy":24},"encoding":{"x":{"datum":0,"type":"quantitative","axis":null},"y":{"datum":-1.25,"type":"quantitative","axis":null}}},
{"data":{"values":[{}]},"mark":{"type":"text","text":"L","fontSize":19,"align":"center","baseline":"middle","dy":24},"encoding":{"x":{"datum":1,"type":"quantitative","axis":null},"y":{"datum":-1.25,"type":"quantitative","axis":null}}}
]
},
{
"layer":[
{"data":{"name":"profiles"},"transform":[{"filter":"datum.shape === 'Four pockets'"}],"mark":{"type":"line","color":"#44eeee","strokeWidth":1,"interpolate":"monotone"},
 "encoding":{"x":{"field":"x","type":"quantitative","scale":{"domain":[0,1],"range":[521.7,640.7],"nice":false,"zero":false},"axis":null},
  "y":{"field":"v","type":"quantitative","scale":{"domain":[-1.25,0.5],"range":[285,212],"nice":false,"zero":false},"axis":null}}},
{"data":{"name":"inset_ticks"},"mark":{"type":"rule","color":"#333","strokeWidth":1},"encoding":{"x":{"field":"x","type":"quantitative","axis":null},"x2":{"field":"x2"},"y":{"field":"v","type":"quantitative","axis":null}}},
{"data":{"values":[{}]},"mark":{"type":"rect","filled":false,"stroke":"#333","strokeWidth":1.2},"encoding":{"x":{"datum":0,"type":"quantitative","axis":null},"x2":{"datum":1},"y":{"datum":-1.25,"type":"quantitative","axis":null},"y2":{"datum":0.5}}},
{"data":{"values":[{}]},"mark":{"type":"text","text":"Four pockets","fontSize":19,"align":"center","baseline":"alphabetic","dx":7,"dy":-6},"encoding":{"x":{"datum":0.5,"type":"quantitative","axis":null},"y":{"datum":0.5,"type":"quantitative","axis":null}}},
{"data":{"values":[{}]},"mark":{"type":"text","text":"0","fontSize":19,"align":"right","baseline":"middle","dx":-14,"dy":1},"encoding":{"x":{"datum":0,"type":"quantitative","axis":null},"y":{"datum":0,"type":"quantitative","axis":null}}},
{"data":{"values":[{}]},"mark":{"type":"text","text":"V","fontSize":19,"align":"right","baseline":"middle","dx":-37,"dy":0},"encoding":{"x":{"datum":0,"type":"quantitative","axis":null},"y":{"datum":-1,"type":"quantitative","axis":null}}},
{"data":{"values":[{}]},"mark":{"type":"text","text":"max","fontSize":12.5,"align":"right","baseline":"middle","dx":-14,"dy":6},"encoding":{"x":{"datum":0,"type":"quantitative","axis":null},"y":{"datum":-1,"type":"quantitative","axis":null}}},
{"data":{"values":[{}]},"mark":{"type":"text","text":"0","fontSize":19,"align":"center","baseline":"middle","dx":2,"dy":24},"encoding":{"x":{"datum":0,"type":"quantitative","axis":null},"y":{"datum":-1.25,"type":"quantitative","axis":null}}},
{"data":{"values":[{}]},"mark":{"type":"text","text":"L","fontSize":19,"align":"center","baseline":"middle","dy":24},"encoding":{"x":{"datum":1,"type":"quantitative","axis":null},"y":{"datum":-1.25,"type":"quantitative","axis":null}}}
]
},
{
"layer":[
{"data":{"name":"profiles"},"transform":[{"filter":"datum.shape === 'Six pockets'"}],"mark":{"type":"line","color":"#333333","strokeWidth":1,"interpolate":"monotone"},
 "encoding":{"x":{"field":"x","type":"quantitative","scale":{"domain":[0,1],"range":[435.7,555],"nice":false,"zero":false},"axis":null},
  "y":{"field":"v","type":"quantitative","scale":{"domain":[-1.25,0.5],"range":[435.7,362.3],"nice":false,"zero":false},"axis":null}}},
{"data":{"name":"inset_ticks"},"mark":{"type":"rule","color":"#333","strokeWidth":1},"encoding":{"x":{"field":"x","type":"quantitative","axis":null},"x2":{"field":"x2"},"y":{"field":"v","type":"quantitative","axis":null}}},
{"data":{"values":[{}]},"mark":{"type":"rect","filled":false,"stroke":"#333","strokeWidth":1.2},"encoding":{"x":{"datum":0,"type":"quantitative","axis":null},"x2":{"datum":1},"y":{"datum":-1.25,"type":"quantitative","axis":null},"y2":{"datum":0.5}}},
{"data":{"values":[{}]},"mark":{"type":"text","text":"Six pockets","fontSize":19,"align":"center","baseline":"alphabetic","dx":7,"dy":-6},"encoding":{"x":{"datum":0.5,"type":"quantitative","axis":null},"y":{"datum":0.5,"type":"quantitative","axis":null}}},
{"data":{"values":[{}]},"mark":{"type":"text","text":"0","fontSize":19,"align":"right","baseline":"middle","dx":-14,"dy":1},"encoding":{"x":{"datum":0,"type":"quantitative","axis":null},"y":{"datum":0,"type":"quantitative","axis":null}}},
{"data":{"values":[{}]},"mark":{"type":"text","text":"V","fontSize":19,"align":"right","baseline":"middle","dx":-37,"dy":0},"encoding":{"x":{"datum":0,"type":"quantitative","axis":null},"y":{"datum":-1,"type":"quantitative","axis":null}}},
{"data":{"values":[{}]},"mark":{"type":"text","text":"max","fontSize":12.5,"align":"right","baseline":"middle","dx":-14,"dy":6},"encoding":{"x":{"datum":0,"type":"quantitative","axis":null},"y":{"datum":-1,"type":"quantitative","axis":null}}},
{"data":{"values":[{}]},"mark":{"type":"text","text":"0","fontSize":19,"align":"center","baseline":"middle","dx":2,"dy":24},"encoding":{"x":{"datum":0,"type":"quantitative","axis":null},"y":{"datum":-1.25,"type":"quantitative","axis":null}}},
{"data":{"values":[{}]},"mark":{"type":"text","text":"L","fontSize":19,"align":"center","baseline":"middle","dy":24},"encoding":{"x":{"datum":1,"type":"quantitative","axis":null},"y":{"datum":-1.25,"type":"quantitative","axis":null}}}
]
}
],
"resolve":{"scale":{"x":"independent","y":"independent"}}
}
